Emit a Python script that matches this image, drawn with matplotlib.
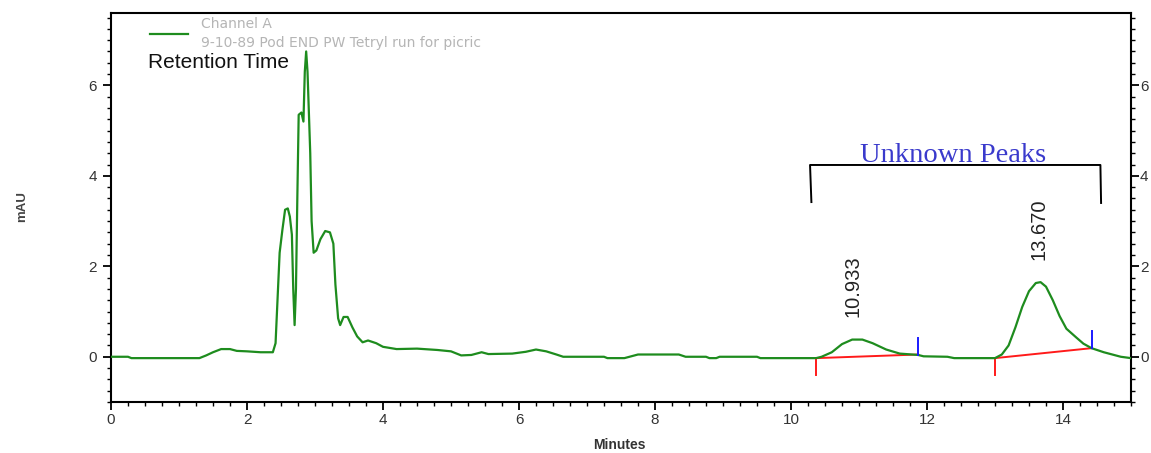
import matplotlib
matplotlib.use("Agg")
import matplotlib.pyplot as plt
from matplotlib.lines import Line2D
from matplotlib.ticker import MultipleLocator

# ---------------- data ----------------
time_min = [0.0, 0.25, 0.3, 1.3, 1.4, 1.5, 1.62, 1.75, 1.85, 2.0, 2.2, 2.38,
            2.42, 2.45, 2.48, 2.52, 2.56, 2.60, 2.63, 2.66, 2.68, 2.70, 2.72,
            2.74, 2.76, 2.80, 2.83, 2.85, 2.87, 2.89, 2.91, 2.93, 2.95, 2.98,
            3.02, 3.08, 3.15, 3.22, 3.27, 3.30, 3.34, 3.37, 3.42, 3.48, 3.55,
            3.62, 3.70, 3.78, 3.90, 4.0, 4.2, 4.5, 4.8, 5.0, 5.15, 5.3, 5.45,
            5.55, 5.9, 6.1, 6.25, 6.4, 6.55, 6.65, 7.25, 7.3, 7.55, 7.65, 7.75,
            8.35, 8.45, 8.75, 8.8, 8.9, 8.95, 9.5, 9.55, 10.37, 10.45, 10.6,
            10.75, 10.9, 11.05, 11.2, 11.4, 11.6, 11.87, 11.95, 12.3, 12.4,
            13.0, 13.1, 13.2, 13.3, 13.4, 13.5, 13.6, 13.67, 13.75, 13.85,
            13.95, 14.05, 14.2, 14.3, 14.42, 14.6, 14.75, 14.85, 15.0]
signal_mau = [0.00, 0.00, -0.03, -0.03, 0.03, 0.10, 0.17, 0.17, 0.13, 0.12, 0.10, 0.10,
              0.30, 1.30, 2.30, 2.80, 3.25, 3.28, 3.10, 2.70, 1.50, 0.70, 1.50,
              3.50, 5.35, 5.40, 5.20, 6.30, 6.75, 6.30, 5.40, 4.50, 3.00, 2.30,
              2.35, 2.60, 2.78, 2.75, 2.50, 1.60, 0.85, 0.70, 0.88, 0.88, 0.65,
              0.45, 0.32, 0.36, 0.30, 0.22, 0.17, 0.18, 0.15, 0.12, 0.03, 0.04, 0.10,
              0.06, 0.07, 0.11, 0.16, 0.12, 0.05, 0.00, 0.00, -0.03, -0.03, 0.01, 0.05,
              0.05, 0.00, 0.00, -0.03, -0.03, 0.00, 0.00, -0.03, -0.03, 0.00, 0.10,
              0.28, 0.38, 0.38, 0.30, 0.16, 0.07, 0.04, 0.01, 0.00, -0.03,
              -0.03, 0.05, 0.25, 0.65, 1.10, 1.45, 1.63, 1.65, 1.55, 1.25,
              0.90, 0.62, 0.42, 0.29, 0.19, 0.10, 0.04, 0.00, -0.03]

peak_times = [10.933, 13.670]
peak_labels = ["10.933", "13.670"]
peak_label_y = [0.88, 2.13]

# integration baselines: (start_t, start_y, end_t, end_y)
base_start_t = [10.37, 13.0]
base_start_y = [-0.03, -0.03]
base_end_t = [11.87, 14.42]
base_end_y = [0.05, 0.19]

x_ticks = [0, 2, 4, 6, 8, 10, 12, 14]
y_ticks = [0, 2, 4, 6]

legend_line1 = "Channel A"
legend_line2 = "9-10-89 Pod END PW Tetryl run for picric"

# ---------------- figure ----------------
W, H = 1151, 453
PT = 72 / 100  # points per pixel
fig = plt.figure(figsize=(W / 100, H / 100), dpi=100)
fig.patch.set_facecolor("white")

ax_l, ax_r, ax_b, ax_t = 111 / W, 1131 / W, 1 - 402 / H, 1 - 13 / H
ax = fig.add_axes([ax_l, ax_b, ax_r - ax_l, ax_t - ax_b])
ax.set_xlim(0, 15)
ax.set_ylim(-1, 7.6)

green = "#1e8c1e"
ax.plot(time_min, signal_mau, color=green, lw=1.6, zorder=3)

# baselines + markers
for t0, y0, t1, y1 in zip(base_start_t, base_start_y, base_end_t, base_end_y):
    ax.plot([t0, t1], [y0, y1], color="#ff1a1a", lw=1.4, zorder=2)
    ax.plot([t0, t0], [y0, y0 - 0.37], color="#ff1a1a", lw=1.4, zorder=2)
    ax.plot([t1, t1], [y1, y1 + 0.37], color="#1a1aff", lw=1.4, zorder=4)

# peak labels
for t, lab, ly in zip(peak_times, peak_labels, peak_label_y):
    ax.text(t - 0.02, ly, lab, rotation=90, ha="center", va="bottom",
            fontsize=14.5, family="Liberation Sans", color="#222222")

# bracket
ax.plot([10.30, 10.28, 14.55, 14.56], [3.42, 4.24, 4.24, 3.40],
        color="black", lw=1.4, zorder=3)
ax.text(12.38, 4.30, "Unknown Peaks", ha="center", va="baseline",
        fontsize=20.5, family="Liberation Serif", color="#3a3acc")

ax.text(0.55, 6.38, "Retention Time", ha="left", va="baseline",
        fontsize=15, family="Liberation Sans", color="#111111")

# axes styling
for side in ["left", "right", "top", "bottom"]:
    ax.spines[side].set_linewidth(1.5)
    ax.spines[side].set_color("black")

ax.set_xticks(x_ticks)
ax.set_yticks(y_ticks)
ax.xaxis.set_minor_locator(MultipleLocator(0.25))
ax.yaxis.set_minor_locator(MultipleLocator(0.25))
ax.tick_params(axis="both", which="major", direction="out", length=8 * PT, width=1.3,
               labelsize=11, labelcolor="#333333")
ax.tick_params(axis="both", which="minor", direction="out", length=4 * PT, width=1.0)
ax.tick_params(axis="y", which="both", right=True, left=True, pad=6 * PT)
ax.tick_params(axis="x", which="both", top=False, pad=3 * PT)
for lab in ax.get_xticklabels() + ax.get_yticklabels():
    lab.set_family("Liberation Sans")

ax2 = ax.twinx()
ax2.set_ylim(ax.get_ylim())
ax2.set_yticks(y_ticks)
ax2.yaxis.set_minor_locator(MultipleLocator(0.25))
ax2.tick_params(axis="y", which="major", direction="out", length=8 * PT, width=1.3,
                labelsize=11, labelcolor="#333333", pad=1 * PT)
ax2.tick_params(axis="y", which="minor", direction="out", length=4 * PT, width=1.0)
for lab in ax2.get_yticklabels():
    lab.set_family("Liberation Sans")
for side in ["left", "right", "top", "bottom"]:
    ax2.spines[side].set_visible(False)

# axis labels
fig.text(21.7 / W, 1 - 207 / H, "mAU", rotation=90, ha="center", va="center",
         fontsize=9.5, fontweight="bold", color="#444444", family="Liberation Sans")
fig.text(619 / W, 1 - 445 / H, "Minutes", ha="center", va="center",
         fontsize=10, fontweight="bold", color="#333333", family="Liberation Sans")

# legend
fig.add_artist(Line2D([150 / W, 188 / W], [1 - 34 / H, 1 - 34 / H],
                      color=green, lw=1.6, transform=fig.transFigure))
fig.text(201 / W, 1 - 28 / H, legend_line1, ha="left", va="baseline",
         fontsize=10, color="#b5b5b5", family="DejaVu Sans")
fig.text(201 / W, 1 - 47 / H, legend_line2, ha="left", va="baseline",
         fontsize=10, color="#b5b5b5", family="DejaVu Sans")

fig.savefig("out.png", dpi=100, facecolor="white")
